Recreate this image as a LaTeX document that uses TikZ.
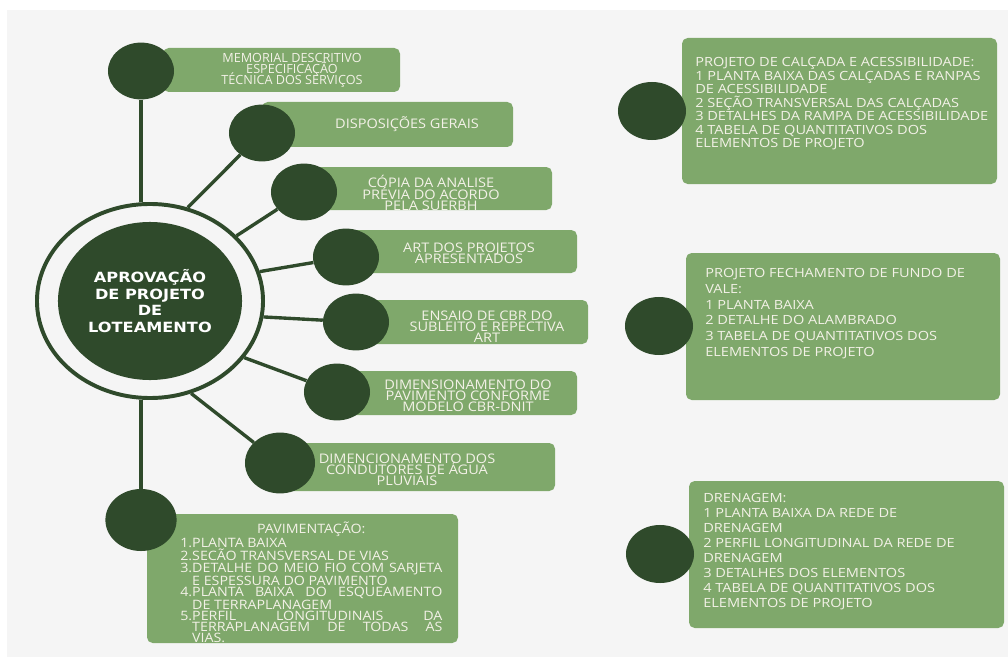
\documentclass[tikz,border=0pt]{standalone}
\usepackage{fontspec}
\setmainfont{Open Sans}
\newfontfamily\hubfont[FakeStretch=1.15]{DejaVu Sans}
\newfontfamily\sidefont[FakeStretch=1.15]{Open Sans}
\newfontfamily\tagfont[FakeStretch=1.1]{Open Sans}
\usetikzlibrary{positioning, shapes.geometric, fit}
\definecolor{leaf}{HTML}{2F4A2B}
\definecolor{moss}{HTML}{7FA86B}
\definecolor{cream}{HTML}{F3F1E7}
\definecolor{paper}{HTML}{F5F5F5}
\lineskiplimit=-100pt
\tikzstyle{bubble}=[ellipse, fill=leaf, inner sep=0pt, minimum width=1.65cm, minimum height=1.42cm]
\tikzstyle{panel}=[rectangle, fill=moss, rounded corners=4pt, inner sep=0pt]
\tikzstyle{tag}=[text=cream, align=center, inner sep=0pt, font=\tagfont\fontsize{9.4}{7.9}\selectfont]
\tikzstyle{note}=[text=cream, align=left, anchor=north west, inner sep=0pt]
\tikzstyle{link}=[draw=leaf, line width=2.4pt]
\newcommand{\pitem}[2]{\noindent\hangindent=8.5pt\hangafter=1\makebox[8.5pt][l]{#1}#2\par}

\begin{document}
\begin{tikzpicture}[x=0.025cm, y=-0.025cm]
    \useasboundingbox (0,0) rectangle (1008,657);
    \fill[white] (0,0) rectangle (1008,657);
    \fill[paper] (7,10) rectangle (1008,657);

    \node[panel, fit={(163,48) (400,92)}] (p1) {};
    \node[panel, fit={(262,102) (513,147)}] (p2) {};
    \node[panel, fit={(300,167) (552,210)}] (p3) {};
    \node[panel, fit={(340,230) (577,273)}] (p4) {};
    \node[panel, fit={(350,300) (588,344)}] (p5) {};
    \node[panel, fit={(330,371) (577,415)}] (p6) {};
    \node[panel, fit={(275,443) (555,491)}] (p7) {};
    \node[panel, fit={(147,514) (458,643)}] (p8) {};
    \node[panel, fit={(682,38) (997,184)}] (q1) {};
    \node[panel, fit={(686,253) (1000,400)}] (q2) {};
    \node[panel, fit={(689,481) (1004,628)}] (q3) {};

    \node[bubble] (b1) at (141,71) {};
    \node[bubble] (b2) at (262,133) {};
    \node[bubble] (b3) at (304,192) {};
    \node[bubble] (b4) at (346,257) {};
    \node[bubble] (b5) at (356,322) {};
    \node[bubble] (b6) at (337,392) {};
    \node[bubble, minimum width=1.75cm, minimum height=1.52cm] (b7) at (280,463) {};
    \node[bubble, minimum width=1.78cm, minimum height=1.55cm] (b8) at (141,520) {};
    \node[bubble, minimum width=1.7cm, minimum height=1.45cm] (c1) at (652,111) {};
    \node[bubble, minimum width=1.7cm, minimum height=1.45cm] (c2) at (659,326) {};
    \node[bubble, minimum width=1.7cm, minimum height=1.45cm] (c3) at (660,554) {};

    \node[ellipse, draw=leaf, line width=2.8pt, minimum width=5.65cm, minimum height=4.85cm] (ring) at (150,301) {};
    \node[ellipse, fill=leaf, text=white, inner sep=0pt, minimum width=4.6cm, minimum height=3.95cm,
          align=center, font=\hubfont\bfseries\fontsize{10}{12}\selectfont] (hub) at (150,301)
          {APROVAÇÃO\\DE PROJETO\\DE\\LOTEAMENTO};

    \node[tag, font=\fontsize{9}{7.8}\selectfont] (t1) at (292,70) {MEMORIAL DESCRITIVO\\ESPECIFICAÇÃO\\TÉCNICA DOS SERVIÇOS};
    \node[tag] (t2) at (407,124) {DISPOSIÇÕES GERAIS};
    \node[tag] (t3) at (431,193) {CÓPIA DA ANALISE\\PRÉVIA DO ACORDO\\PELA SUERBH};
    \node[tag] (t4) at (469,253) {ART DOS PROJETOS\\APRESENTADOS};
    \node[tag] (t5) at (487,327) {ENSAIO DE CBR DO\\SUBLEITO E REPECTIVA\\ART};
    \node[tag] (t6) at (468,396) {DIMENSIONAMENTO DO\\PAVIMENTO CONFORME\\MODELO CBR-DNIT};
    \node[tag] (t7) at (407,470) {DIMENCIONAMENTO DOS\\CONDUTORES DE ÁGUA\\PLUVIAIS};
    \node[note, text width=6.55cm, align=justify, font=\tagfont\fontsize{9.2}{7.9}\selectfont] (t8) at (180,522) {%
        \centerline{PAVIMENTAÇÃO:}\par
        \pitem{1.}{PLANTA BAIXA}
        \pitem{2.}{SECÃO TRANSVERSAL DE VIAS}
        \pitem{3.}{DETALHE DO MEIO FIO COM SARJETA\linebreak E ESPESSURA DO PAVIMENTO}
        \pitem{4.}{PLANTA BAIXA DO ESQUEAMENTO\linebreak DE TERRAPLANAGEM}
        \pitem{5.}{PERFIL LONGITUDINAIS DA\linebreak TERRAPLANAGEM DE TODAS AS\linebreak VIAS.}};

    \node[note, font=\sidefont\fontsize{9}{9.6}\selectfont] (r1) at (695,57.5)
        {PROJETO DE CALÇADA E ACESSIBILIDADE:\\1 PLANTA BAIXA DAS CALÇADAS E RANPAS\\DE ACESSIBILIDADE\\2 SEÇÃO TRANSVERSAL DAS CALÇADAS\\3 DETALHES DA RAMPA DE ACESSIBILIDADE\\4 TABELA DE QUANTITATIVOS DOS\\ELEMENTOS DE PROJETO};
    \node[note, font=\sidefont\fontsize{9}{11.1}\selectfont] (r2) at (705,268.5)
        {PROJETO FECHAMENTO DE FUNDO DE\\VALE:\\1 PLANTA BAIXA\\2 DETALHE DO ALAMBRADO\\3 TABELA DE QUANTITATIVOS DOS\\ELEMENTOS DE PROJETO};
    \node[note, font=\sidefont\fontsize{9}{10.6}\selectfont] (r3) at (703,493.5)
        {DRENAGEM:\\1 PLANTA BAIXA DA REDE DE\\DRENAGEM\\2 PERFIL LONGITUDINAL DA REDE DE\\DRENAGEM\\3 DETALHES DOS ELEMENTOS\\4 TABELA DE QUANTITATIVOS DOS\\ELEMENTOS DE PROJETO};

    \draw[link] (b1) -- (b1 |- ring.north);
    \draw[link] (ring.68) -- (b2);
    \draw[link] (ring.37) -- (b3);
    \draw[link] (ring.15) -- (b4);
    \draw[link] (ring.-8) -- (b5);
    \draw[link] (ring.-31) -- (b6);
    \draw[link] (ring.-66) -- (b7);
    \draw[link] (b8 |- ring.south) -- (b8);
\end{tikzpicture}
\end{document}
